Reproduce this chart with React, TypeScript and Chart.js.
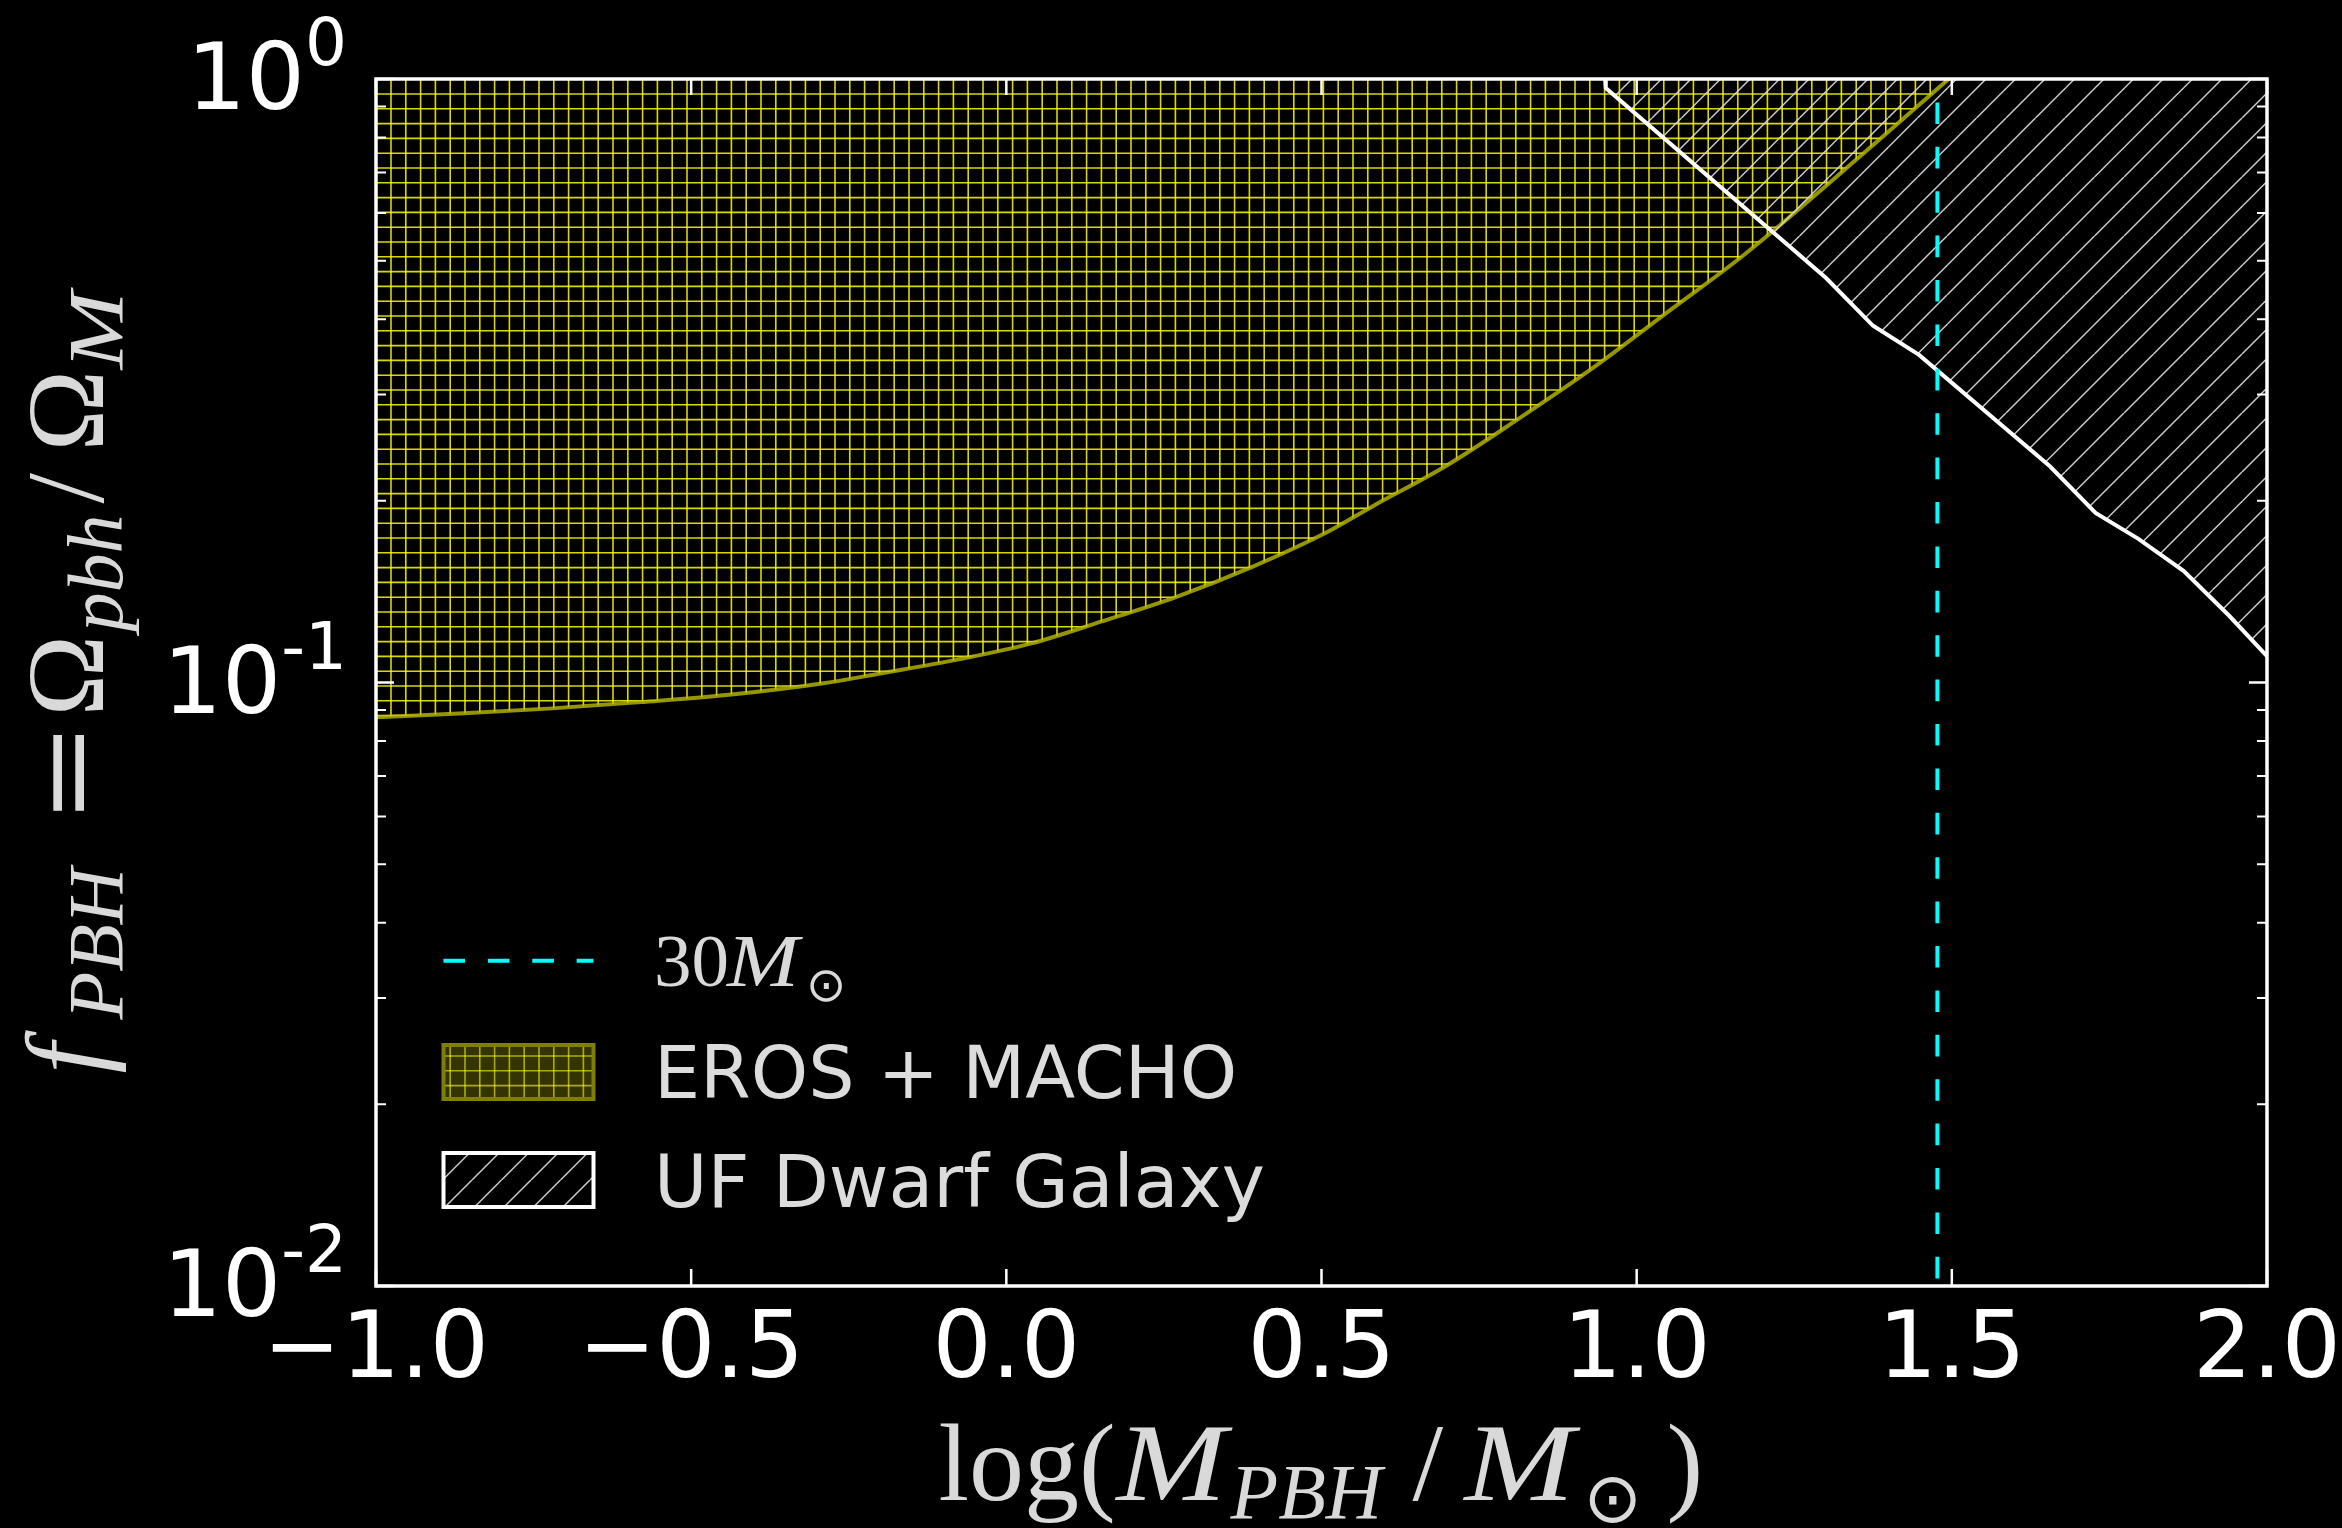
import React, { useEffect, useRef } from 'react';
import { Chart, registerables } from 'chart.js';

Chart.register(...registerables);

const W = 2342;
const H = 1528;

// ---- data ----
const erosLogM = [-1.0, -0.86, -0.72, -0.58, -0.44, -0.29, -0.2, -0.08, 0.04, 0.15, 0.27, 0.39, 0.51, 0.58, 0.7, 0.81, 0.93, 1.05, 1.17, 1.36, 1.495];
const erosF = [0.0876, 0.0889, 0.0906, 0.0928, 0.0954, 0.0997, 0.1035, 0.109, 0.1161, 0.1261, 0.1387, 0.1555, 0.1778, 0.1956, 0.2293, 0.2723, 0.3317, 0.4116, 0.511, 0.753, 1.0];
const dwarfLogM = [0.95, 0.951, 1.3005, 1.375, 1.448, 1.656, 1.728, 1.796, 1.868, 1.94, 2.0];
const dwarfF = [1.0, 0.966, 0.468, 0.39, 0.349, 0.228, 0.191, 0.173, 0.153, 0.129, 0.1106];
const mass30LogM = Math.log10(30);
const xTickValues = [-1, -0.5, 0, 0.5, 1, 1.5, 2];
const yDecadeExps = [-2, -1, 0];
const yMinorMultipliers = [2, 3, 4, 5, 6, 7, 8, 9];
const legendTexts = ['EROS + MACHO', 'UF Dwarf Galaxy'];

function makeGridPattern(ctx: CanvasRenderingContext2D, alpha: number): CanvasPattern {
  const s = 74;
  const c = document.createElement('canvas');
  c.width = s;
  c.height = s;
  const g = c.getContext('2d')!;
  g.strokeStyle = `rgba(255,255,0,${alpha})`;
  g.lineWidth = 1.6;
  for (let k = 0; k < 5; k++) {
    const x = 6.2 + 14.8 * k;
    g.beginPath();
    g.moveTo(x, 0);
    g.lineTo(x, s);
    g.stroke();
    const y = 5.2 + 14.8 * k;
    g.beginPath();
    g.moveTo(0, y);
    g.lineTo(s, y);
    g.stroke();
  }
  return ctx.createPattern(c, 'repeat')!;
}

function makeDiagPattern(ctx: CanvasRenderingContext2D): CanvasPattern {
  const s = 59;
  const c = document.createElement('canvas');
  c.width = s;
  c.height = s;
  const g = c.getContext('2d')!;
  g.strokeStyle = 'rgba(215,215,215,0.95)';
  g.lineWidth = 1.5;
  for (let cc = -29.5; cc <= 2 * s + 29.5; cc += 29.5) {
    g.beginPath();
    g.moveTo(cc, 0);
    g.lineTo(cc - s, s);
    g.stroke();
  }
  return ctx.createPattern(c, 'repeat')!;
}

type Piece = { t: string; font: string; off: number; dy?: number; sx?: number };

function drawPieces(c: CanvasRenderingContext2D, pieces: Piece[], x0: number, y0: number) {
  for (const p of pieces) {
    c.save();
    c.font = p.font;
    c.translate(x0 + p.off, y0 + (p.dy || 0));
    c.scale(p.sx || 1, 1);
    c.fillText(p.t, 0, 0);
    c.restore();
  }
}

export default function App() {
  const ref = useRef<HTMLCanvasElement>(null);

  useEffect(() => {
    document.body.style.margin = '0';
    document.body.style.background = '#000';
    const canvas = ref.current!;
    const ctx = canvas.getContext('2d')!;
    const gridPat = makeGridPattern(ctx, 0.85);
    const gridPatLegend = makeGridPattern(ctx, 0.6);
    const diagPat = makeDiagPattern(ctx);

    const serif = '"Liberation Serif", "DejaVu Serif", serif';
    const sans = '"DejaVu Sans", sans-serif';
    const titleColor = '#d9d9d9';

    const decor = {
      id: 'decor',
      beforeDraw(chart: any) {
        const c = chart.ctx;
        c.save();
        c.fillStyle = '#000';
        c.fillRect(0, 0, chart.width, chart.height);
        c.restore();
      },
      afterDatasetsDraw(chart: any) {
        const c = chart.ctx as CanvasRenderingContext2D;
        const { left, right, top, bottom } = chart.chartArea;
        const xs = chart.scales.x;
        const ys = chart.scales.y;
        c.save();
        c.strokeStyle = '#ffffff';
        c.lineCap = 'butt';
        c.lineWidth = 2.5;
        for (const v of xTickValues) {
          const px = xs.getPixelForValue(v);
          c.beginPath();
          c.moveTo(px, bottom);
          c.lineTo(px, bottom - 17);
          c.moveTo(px, top);
          c.lineTo(px, top + 16);
          c.stroke();
        }
        for (const e of yDecadeExps) {
          const py = ys.getPixelForValue(Math.pow(10, e));
          c.lineWidth = 2.5;
          c.beginPath();
          c.moveTo(left, py);
          c.lineTo(left + 18, py);
          c.moveTo(right, py);
          c.lineTo(right - 18, py);
          c.stroke();
          if (e < 0) {
            c.lineWidth = 2;
            for (const m of yMinorMultipliers) {
              const pm = ys.getPixelForValue(m * Math.pow(10, e));
              c.beginPath();
              c.moveTo(left, pm);
              c.lineTo(left + 10, pm);
              c.moveTo(right, pm);
              c.lineTo(right - 10, pm);
              c.stroke();
            }
          }
        }
        c.lineWidth = 3.5;
        c.strokeRect(left, top, right - left, bottom - top);
        c.restore();
      },
      afterDraw(chart: any) {
        const c = chart.ctx as CanvasRenderingContext2D;
        const { left, right, top, bottom } = chart.chartArea;
        const ys = chart.scales.y;
        c.save();
        c.fillStyle = '#ffffff';
        c.textAlign = 'left';
        c.textBaseline = 'alphabetic';
        const R = left - 29;
        for (const e of yDecadeExps) {
          const py = ys.getPixelForValue(Math.pow(10, e));
          const sup = String(e);
          c.font = `66px ${sans}`;
          const sw = c.measureText(sup).width;
          c.font = `93px ${sans}`;
          const tw = c.measureText('10').width;
          c.fillText('10', R - sw - tw, py + 30);
          c.font = `66px ${sans}`;
          c.fillText(sup, R - sw, py - 14);
        }

        // x axis title
        c.fillStyle = titleColor;
        const cx = (left + right) / 2;
        const xPieces: Piece[] = [
          { t: 'log(', font: `110px ${serif}`, off: 0 },
          { t: 'M', font: `italic 110px ${serif}`, off: 178, sx: 1.2 },
          { t: 'PBH', font: `italic 78px ${serif}`, off: 292, dy: 18 },
          { t: '/', font: `110px ${serif}`, off: 474 },
          { t: 'M', font: `italic 110px ${serif}`, off: 526, sx: 1.2 },
          { t: '\u2299', font: `70px ${sans}`, off: 645, dy: 22 },
          { t: ')', font: `110px ${serif}`, off: 728 },
        ];
        drawPieces(c, xPieces, cx - 383, bottom + 214);

        // y axis title (rotated)
        const cy = (top + bottom) / 2;
        c.save();
        c.translate(103, cy + 391);
        c.rotate(-Math.PI / 2);
        const yPieces: Piece[] = [
          { t: 'f', font: `italic 110px ${serif}`, off: 0 },
          { t: 'PBH', font: `italic 78px ${serif}`, off: 54, dy: 19 },
          { t: '=', font: `110px "DejaVu Serif", serif`, off: 250, sx: 1.1 },
          { t: '\u03A9', font: `110px ${serif}`, off: 357 },
          { t: 'pbh', font: `italic 78px ${serif}`, off: 442, dy: 19 },
          { t: '/', font: `110px ${serif}`, off: 570 },
          { t: '\u03A9', font: `110px ${serif}`, off: 622 },
          { t: 'M', font: `italic 78px ${serif}`, off: 704, dy: 19, sx: 1.2 },
        ];
        drawPieces(c, yPieces, 0, 0);
        c.restore();

        // legend
        const lx = 443.5;
        const lw = 150;
        const tx = 654;
        c.save();
        c.strokeStyle = '#00ffff';
        c.lineWidth = 4;
        c.setLineDash([21.6, 22.8]);
        c.beginPath();
        c.moveTo(lx, 960.7);
        c.lineTo(lx + lw, 960.7);
        c.stroke();
        c.restore();
        c.fillStyle = titleColor;
        const legPieces: Piece[] = [
          { t: '30', font: `75px ${serif}`, off: 0 },
          { t: 'M', font: `italic 75px ${serif}`, off: 73, sx: 1.15 },
          { t: '\u2299', font: `48px ${sans}`, off: 152, dy: 15 },
        ];
        drawPieces(c, legPieces, tx, 986);

        // EROS patch
        c.fillStyle = 'rgb(52,52,0)';
        c.fillRect(lx, 1045, lw, 54);
        c.fillStyle = gridPatLegend;
        c.fillRect(lx, 1045, lw, 54);
        c.strokeStyle = 'rgb(128,128,0)';
        c.lineWidth = 4;
        c.strokeRect(lx, 1045, lw, 54);
        c.fillStyle = '#dcdcdc';
        c.font = `73px ${sans}`;
        c.fillText(legendTexts[0], tx, 1098);

        // UF Dwarf patch
        c.fillStyle = diagPat;
        c.fillRect(lx, 1153, lw, 54);
        c.strokeStyle = '#ffffff';
        c.lineWidth = 4;
        c.strokeRect(lx, 1153, lw, 54);
        c.fillStyle = '#dcdcdc';
        c.font = `73px ${sans}`;
        c.fillText(legendTexts[1], tx, 1207);
        c.restore();
      },
    };

    const chart = new Chart(ctx, {
      type: 'line',
      data: {
        datasets: [
          {
            label: 'EROS + MACHO',
            data: erosLogM.map((x, i) => ({ x, y: erosF[i] })),
            borderColor: 'rgba(191,191,0,0.78)',
            borderWidth: 4,
            backgroundColor: gridPat as any,
            fill: 'end',
            pointRadius: 0,
            cubicInterpolationMode: 'monotone',
            order: 2,
          },
          {
            label: 'UF Dwarf Galaxy',
            data: dwarfLogM.map((x, i) => ({ x, y: dwarfF[i] })),
            borderColor: '#ffffff',
            borderWidth: 4,
            backgroundColor: diagPat as any,
            fill: 'end',
            pointRadius: 0,
            tension: 0,
            order: 1,
          },
          {
            label: '30M\u2299',
            data: [
              { x: mass30LogM, y: 1 },
              { x: mass30LogM, y: 0.01 },
            ],
            borderColor: '#00ffff',
            borderWidth: 4,
            borderDash: [21.6, 22.8],
            borderDashOffset: 21,
            pointRadius: 0,
            fill: false,
            order: 0,
          },
        ],
      } as any,
      options: {
        responsive: false,
        animation: false,
        devicePixelRatio: 1,
        events: [],
        layout: { padding: { top: 79, right: 75, left: 0, bottom: 0 } },
        plugins: {
          legend: { display: false },
          tooltip: { enabled: false },
        },
        scales: {
          x: {
            type: 'linear',
            position: 'bottom',
            min: -1,
            max: 2,
            grid: { display: false, drawTicks: false },
            border: { display: false },
            ticks: {
              stepSize: 0.5,
              autoSkip: false,
              maxRotation: 0,
              minRotation: 0,
              padding: 11,
              color: '#ffffff',
              font: { family: 'DejaVu Sans', size: 93 },
              callback: (value: any) => {
                const v = Number(value);
                return (v < 0 ? '\u2212' : '') + Math.abs(v).toFixed(1);
              },
            },
            afterFit: (s: any) => {
              s.height = 242;
              s.paddingLeft = 0;
              s.paddingRight = 0;
            },
          },
          y: {
            type: 'logarithmic',
            min: 0.01,
            max: 1,
            grid: { display: false, drawTicks: false },
            border: { display: false },
            ticks: { display: false },
            afterFit: (s: any) => {
              s.width = 376;
              s.paddingTop = 0;
              s.paddingBottom = 0;
            },
          },
        },
      } as any,
      plugins: [decor],
    });

    return () => chart.destroy();
  }, []);

  return (
    <div style={{ position: 'fixed', left: 0, top: 0, width: W, height: H, background: '#000' }}>
      <canvas ref={ref} width={W} height={H} style={{ display: 'block', width: W, height: H }} />
    </div>
  );
}
